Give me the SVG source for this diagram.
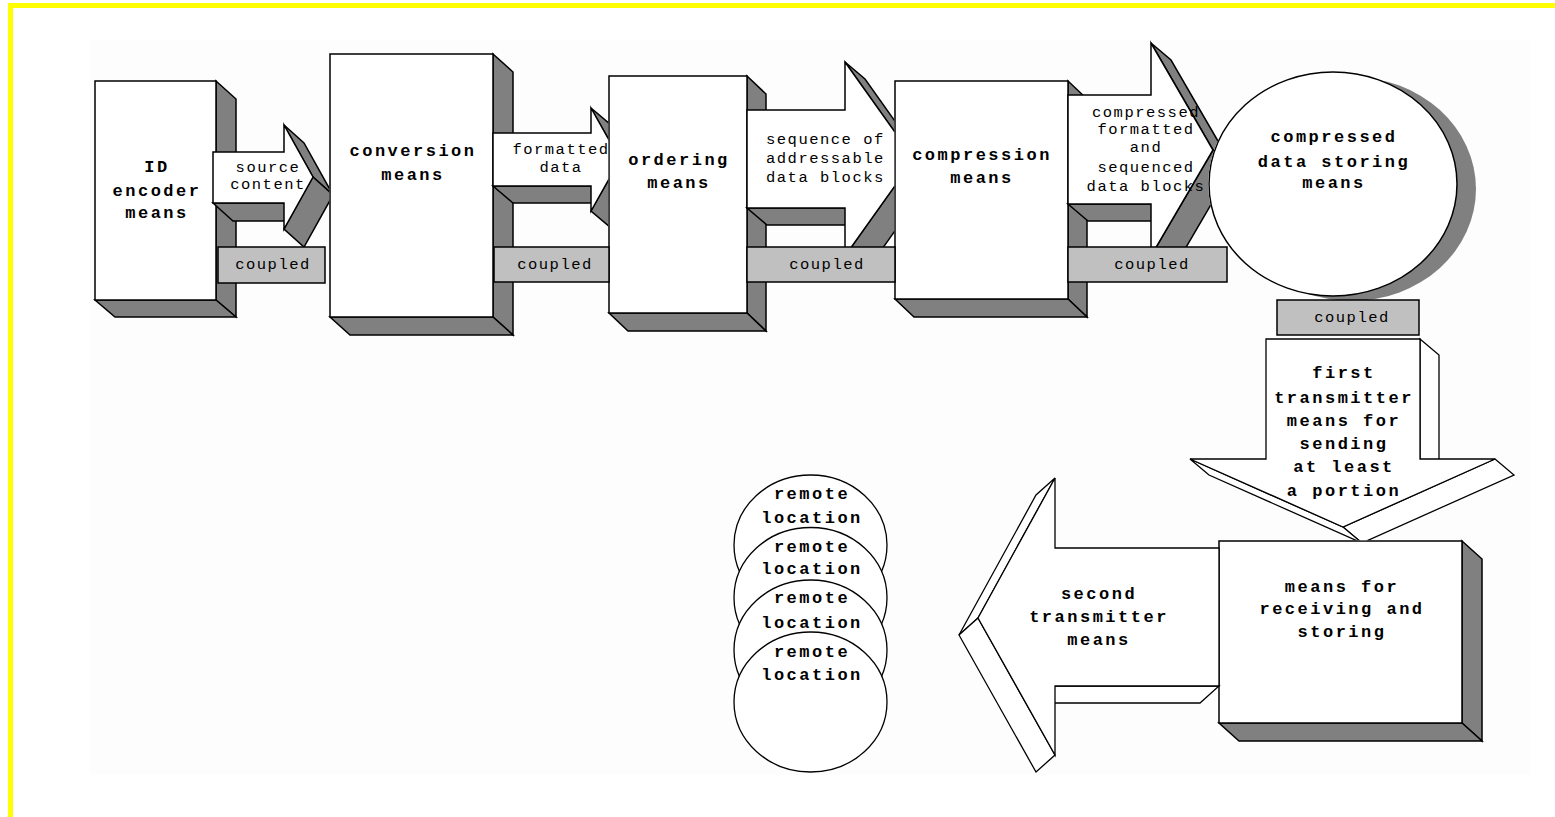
<svg xmlns="http://www.w3.org/2000/svg" width="1555" height="817" viewBox="0 0 1555 817">
<style>
.f{fill:#fff;stroke:#000;stroke-width:1.5;stroke-linejoin:miter}
.w{fill:#fff;stroke:#000;stroke-width:1.3;stroke-linejoin:miter}
.s{fill:#808080;stroke:#000;stroke-width:1.5;stroke-linejoin:miter}
.c{fill:#c0c0c0;stroke:#000;stroke-width:1.5}
.b{font-family:"Liberation Mono","DejaVu Sans Mono",monospace;font-weight:bold;font-size:17px;letter-spacing:2.5px;text-anchor:middle;fill:#000}
.t{font-family:"Liberation Mono","DejaVu Sans Mono",monospace;font-size:15.5px;letter-spacing:1.5px;text-anchor:middle;fill:#000}
.tl{font-family:"Liberation Mono","DejaVu Sans Mono",monospace;font-size:15.5px;letter-spacing:1.5px;text-anchor:start;fill:#000}
</style>
<defs>
<clipPath id="k1"><rect x="0" y="0" width="329.2" height="817"/></clipPath>
<clipPath id="k2"><rect x="0" y="0" width="608.2" height="817"/></clipPath>
<clipPath id="k3"><rect x="0" y="0" width="894.2" height="817"/></clipPath>
<clipPath id="k4"><path clip-rule="evenodd" d="M0,0H1555V817H0Z M1208.25,184 a124.75,112.75 0 1,0 249.5,0 a124.75,112.75 0 1,0 -249.5,0 Z"/></clipPath>
<clipPath id="k5"><rect x="0" y="0" width="1555" height="540.2"/></clipPath>
</defs>
<rect x="0" y="0" width="1555" height="817" fill="#fff"/>
<rect x="90" y="40" width="1440" height="735" fill="#fdfdfd"/>
<rect x="8" y="3" width="1547" height="5" fill="#ff0"/>
<rect x="8" y="3" width="5" height="814" fill="#ff0"/>

<g id="id-encoder-means">
<polygon class="s" points="216,81 236,99 236,317 216,300"/>
<polygon class="s" points="95,300 216,300 236,317 115,317"/>
<rect class="f" x="95" y="81" width="121" height="219"/>
<text class="b" x="157" y="172">ID</text>
<text class="b" x="157" y="196">encoder</text>
<text class="b" x="157" y="218">means</text>
</g>

<g id="conversion-means">
<polygon class="s" points="493,54 513,72 513,335 493,317"/>
<polygon class="s" points="330,317 493,317 513,335 350,335"/>
<rect class="f" x="330" y="54" width="163" height="263"/>
<text class="b" x="413" y="156">conversion</text>
<text class="b" x="413" y="180">means</text>
</g>

<g id="ordering-means">
<polygon class="s" points="747,76 766,94 766,331 747,313"/>
<polygon class="s" points="609,313 747,313 766,331 628,331"/>
<rect class="f" x="609" y="76" width="138" height="237"/>
<text class="b" x="679" y="165">ordering</text>
<text class="b" x="679" y="188">means</text>
</g>

<g id="compression-means">
<polygon class="s" points="1068,81 1087,99 1087,317 1068,299"/>
<polygon class="s" points="895,299 1068,299 1087,317 914,317"/>
<rect class="f" x="895" y="81" width="173" height="218"/>
<text class="b" x="982" y="160">compression</text>
<text class="b" x="982" y="183">means</text>
</g>

<g id="compressed-data-storing-means">
<ellipse cx="1352" cy="189" rx="124" ry="112" fill="#808080"/>
<ellipse class="f" cx="1333" cy="184" rx="124" ry="112"/>
<text class="b" x="1334" y="142">compressed</text>
<text class="b" x="1334" y="167">data storing</text>
<text class="b" x="1334" y="188">means</text>
</g>

<g id="means-for-receiving-and-storing">
<polygon class="s" points="1462,541 1482,559 1482,741 1462,723"/>
<polygon class="s" points="1219,723 1462,723 1482,741 1239,741"/>
<rect class="f" x="1219" y="541" width="243" height="182"/>
<text class="b" x="1342" y="592">means for</text>
<text class="b" x="1342" y="614">receiving and</text>
<text class="b" x="1342" y="637">storing</text>
</g>

<g id="remote-locations">
<g id="remote-location-1">
<ellipse class="w" cx="810.5" cy="545" rx="76.5" ry="70"/>
<text class="b" x="812" y="499">remote</text>
<text class="b" x="812" y="523">location</text>
</g>
<g id="remote-location-2">
<ellipse class="w" cx="810.5" cy="597.5" rx="76.5" ry="70"/>
<text class="b" x="812" y="552">remote</text>
<text class="b" x="812" y="574">location</text>
</g>
<g id="remote-location-3">
<ellipse class="w" cx="810.5" cy="650" rx="76.5" ry="70"/>
<text class="b" x="812" y="603">remote</text>
<text class="b" x="812" y="628">location</text>
</g>
<g id="remote-location-4">
<ellipse class="w" cx="810.5" cy="702" rx="76.5" ry="70"/>
<text class="b" x="812" y="657">remote</text>
<text class="b" x="812" y="680">location</text>
</g>
</g>

<g id="connectors">
<g id="arrow-source-content" clip-path="url(#k1)">
<polygon class="s" points="213,203 284,203 304,221 233,221"/>
<polygon class="s" points="284,125 304,143 333,195 313,177"/>
<polygon class="s" points="313,177 333,195 304,247 284,229"/>
<polygon class="f" points="213,152 284,152 284,125 313,177 284,229 284,203 213,203"/>
<text class="t" x="268" y="172">source</text>
<text class="t" x="268" y="189">content</text>
</g>
<g id="arrow-formatted-data" clip-path="url(#k2)">
<polygon class="s" points="493,186 591,186 611,203 513,203"/>
<polygon class="s" points="591,108 611,125 640,176.5 620,159.5"/>
<polygon class="s" points="620,159.5 640,176.5 611,228 591,211"/>
<polygon class="f" points="493,133 591,133 591,108 620,159.5 591,211 591,186 493,186"/>
<text class="t" x="561" y="154">formatted</text>
<text class="t" x="561" y="172">data</text>
</g>
<g id="arrow-sequence" clip-path="url(#k3)">
<polygon class="s" points="747,208 845,208 865,225 767,225"/>
<polygon class="s" points="845,62 865,79 934,176 914,159"/>
<polygon class="s" points="914,159 934,176 865,273 845,256"/>
<polygon class="f" points="747,110 845,110 845,62 914,159 845,256 845,208 747,208"/>
<text class="tl" x="766" y="144">sequence of</text>
<text class="tl" x="766" y="163">addressable</text>
<text class="tl" x="766" y="182">data blocks</text>
</g>
<g id="arrow-compressed-blocks" clip-path="url(#k4)">
<polygon class="s" points="1068,204 1151,204 1171,221 1088,221"/>
<polygon class="s" points="1151,43 1171,60 1233,167 1213,150"/>
<polygon class="s" points="1213,150 1233,167 1171,273 1151,256"/>
<polygon class="f" points="1068,95 1151,95 1151,43 1213,150 1151,256 1151,204 1068,204"/>
<text class="t" x="1146" y="117">compressed</text>
<text class="t" x="1146" y="134">formatted</text>
<text class="t" x="1146" y="152">and</text>
<text class="t" x="1146" y="172">sequenced</text>
<text class="t" x="1146" y="191">data blocks</text>
</g>
<g id="coupled-1"><rect class="c" x="218" y="247" width="107" height="36"/><text class="t" x="273" y="269">coupled</text></g>
<g id="coupled-2"><rect class="c" x="494" y="247" width="115" height="35"/><text class="t" x="555" y="269">coupled</text></g>
<g id="coupled-3"><rect class="c" x="747" y="247" width="148" height="35"/><text class="t" x="827" y="269">coupled</text></g>
<g id="coupled-4"><rect class="c" x="1068" y="247" width="159" height="35"/><text class="t" x="1152" y="269">coupled</text></g>
<g id="coupled-5"><rect class="c" x="1277" y="300" width="142" height="35"/><text class="t" x="1352" y="322">coupled</text></g>
<g id="arrow-first-transmitter" clip-path="url(#k5)">
<polygon class="w" points="1420,339 1439,355 1439,475 1420,459"/>
<polygon class="w" points="1495,459 1514,475 1362,543 1343,527"/>
<polygon class="w" points="1190,459 1209,475 1362,543 1343,527"/>
<polygon class="w" points="1266,339 1420,339 1420,459 1495,459 1343,527 1190,459 1266,459"/>
<text class="b" x="1344" y="378">first</text>
<text class="b" x="1344" y="403">transmitter</text>
<text class="b" x="1344" y="426">means for</text>
<text class="b" x="1344" y="449">sending</text>
<text class="b" x="1344" y="472">at least</text>
<text class="b" x="1344" y="496">a portion</text>
</g>
<g id="arrow-second-transmitter">
<polygon class="w" points="1055,478 1036,495 959,635 978,618"/>
<polygon class="w" points="978,618 959,635 1036,772 1055,755"/>
<polygon class="w" points="1055,686 1219,686 1200,703 1036,703"/>
<polygon class="w" points="1219,548 1055,548 1055,478 978,618 1055,755 1055,686 1219,686"/>
<text class="b" x="1099" y="599">second</text>
<text class="b" x="1099" y="622">transmitter</text>
<text class="b" x="1099" y="645">means</text>
</g>
</g>
</svg>
